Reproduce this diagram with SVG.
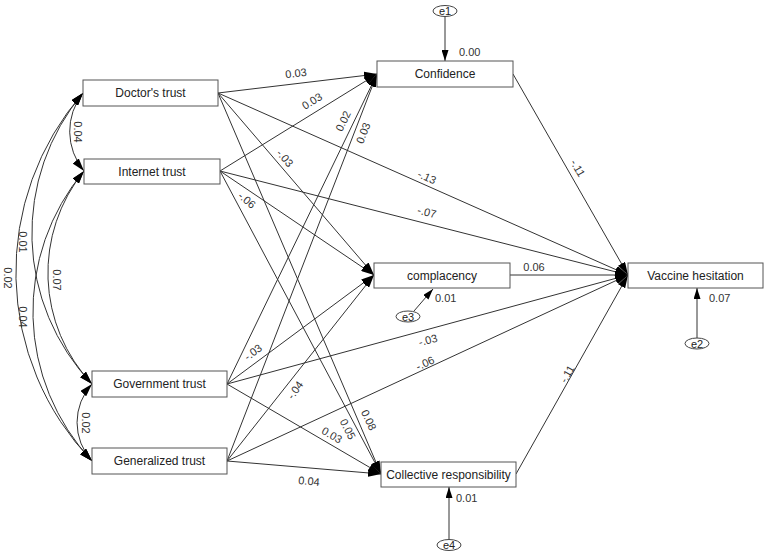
<svg xmlns="http://www.w3.org/2000/svg" width="767" height="555" viewBox="0 0 767 555">
<style>
.box{fill:#fff;stroke:#555;stroke-width:1}
.lbl{font-family:"Liberation Sans",Arial,sans-serif;font-size:12px;fill:#222;text-anchor:middle}
.el{fill:#fff;stroke:#444;stroke-width:1}
.elt{font-family:"Liberation Sans",Arial,sans-serif;font-size:11px;fill:#222;text-anchor:middle}
.c{fill:none;stroke:#333;stroke-width:1}
.w{font-family:"Liberation Sans",Arial,sans-serif;font-size:11px;fill:#333;text-anchor:middle}
.ws{font-family:"Liberation Sans",Arial,sans-serif;font-size:11px;fill:#333}
</style>
<defs>
<marker id="ah" markerUnits="userSpaceOnUse" markerWidth="13" markerHeight="8" refX="13" refY="4" orient="auto-start-reverse">
<path d="M0,0 L13,4 L0,8 z" fill="#000"/>
</marker>
<marker id="as" markerUnits="userSpaceOnUse" markerWidth="11" markerHeight="7" refX="11" refY="3.5" orient="auto-start-reverse">
<path d="M0,0 L11,3.5 L0,7 z" fill="#000"/>
</marker>
</defs>
<rect width="767" height="555" fill="#fff"/>

<g id="connectors">
<!-- covariances -->
<path class="c" d="M83,93 A62,62 0 0,0 84,171" marker-start="url(#ah)" marker-end="url(#ah)"/>
<path class="c" d="M83,93 A218.6,218.6 0 0,0 92,384" marker-start="url(#ah)" marker-end="url(#ah)"/>
<path class="c" d="M83,93 A272.5,272.5 0 0,0 92,461" marker-start="url(#ah)" marker-end="url(#ah)"/>
<path class="c" d="M84,171 A162,162 0 0,0 92,384" marker-start="url(#ah)" marker-end="url(#ah)"/>
<path class="c" d="M84,171 A218.8,218.8 0 0,0 92,461" marker-start="url(#ah)" marker-end="url(#ah)"/>
<path class="c" d="M92,384 A57,57 0 0,0 92,461" marker-start="url(#ah)" marker-end="url(#ah)"/>
<!-- Doctor's trust -->
<line class="c" x1="218" y1="93" x2="377" y2="74" marker-end="url(#ah)"/>
<line class="c" x1="218" y1="93" x2="374" y2="275" marker-end="url(#ah)"/>
<line class="c" x1="218" y1="93" x2="628" y2="275" marker-end="url(#ah)"/>
<line class="c" x1="218" y1="93" x2="381" y2="474" marker-end="url(#ah)"/>
<!-- Internet trust -->
<line class="c" x1="220" y1="171" x2="377" y2="74" marker-end="url(#ah)"/>
<line class="c" x1="220" y1="171" x2="374" y2="275" marker-end="url(#ah)"/>
<line class="c" x1="220" y1="171" x2="628" y2="275" marker-end="url(#ah)"/>
<line class="c" x1="220" y1="171" x2="381" y2="474" marker-end="url(#ah)"/>
<!-- Government trust -->
<line class="c" x1="227" y1="384" x2="377" y2="74" marker-end="url(#ah)"/>
<line class="c" x1="227" y1="384" x2="374" y2="275" marker-end="url(#ah)"/>
<line class="c" x1="227" y1="384" x2="628" y2="275" marker-end="url(#ah)"/>
<line class="c" x1="227" y1="384" x2="381" y2="474" marker-end="url(#ah)"/>
<!-- Generalized trust -->
<line class="c" x1="227" y1="461" x2="377" y2="74" marker-end="url(#ah)"/>
<line class="c" x1="227" y1="461" x2="374" y2="275" marker-end="url(#ah)"/>
<line class="c" x1="227" y1="461" x2="628" y2="275" marker-end="url(#ah)"/>
<line class="c" x1="227" y1="461" x2="381" y2="474" marker-end="url(#ah)"/>
<!-- mediators to outcome -->
<line class="c" x1="513" y1="74" x2="628" y2="275" marker-end="url(#ah)"/>
<line class="c" x1="510" y1="275" x2="628" y2="275" marker-end="url(#ah)"/>
<line class="c" x1="516" y1="474" x2="628" y2="275" marker-end="url(#ah)"/>
<!-- error terms -->
<line class="c" x1="445" y1="16.5" x2="445" y2="61" marker-end="url(#as)"/>
<line class="c" x1="414" y1="311" x2="433" y2="289" marker-end="url(#as)"/>
<line class="c" x1="697" y1="338" x2="697" y2="288" marker-end="url(#as)"/>
<line class="c" x1="449" y1="539" x2="449" y2="487" marker-end="url(#as)"/>

<!-- labels -->
<text class="w" transform="translate(78,132) rotate(90)" y="4">0.04</text>
<text class="w" transform="translate(23,242) rotate(90)" y="4">0.01</text>
<text class="w" transform="translate(8,278) rotate(90)" y="4">0.02</text>
<text class="w" transform="translate(57,280) rotate(90)" y="4">0.07</text>
<text class="w" transform="translate(23,317) rotate(90)" y="4">0.04</text>
<text class="w" transform="translate(86,423) rotate(90)" y="4">0.02</text>

<text class="w" transform="translate(296,73) rotate(-7)" y="4">0.03</text>
<text class="w" transform="translate(312,101) rotate(-32)" y="4">0.03</text>
<text class="w" transform="translate(343,121) rotate(-64)" y="4">0.02</text>
<text class="w" transform="translate(363,133) rotate(-69)" y="4">0.03</text>
<text class="w" transform="translate(285,158) rotate(49)" y="4">-.03</text>
<text class="w" transform="translate(427,177) rotate(24)" y="4">-.13</text>
<text class="w" transform="translate(247,200) rotate(40)" y="4">-.06</text>
<text class="w" transform="translate(427,212) rotate(14)" y="4">-.07</text>
<text class="w" transform="translate(253,352) rotate(-37)" y="4">-.03</text>
<text class="w" transform="translate(295,390) rotate(-55)" y="4">-.04</text>
<text class="w" transform="translate(428,340) rotate(-15)" y="4">-.03</text>
<text class="w" transform="translate(425,363) rotate(-25)" y="4">-.06</text>
<text class="w" transform="translate(369,420) rotate(65)" y="4">0.08</text>
<text class="w" transform="translate(348,429) rotate(63)" y="4">0.05</text>
<text class="w" transform="translate(332,435) rotate(30)" y="4">0.03</text>
<text class="w" transform="translate(309,481) rotate(5)" y="4">0.04</text>
<text class="w" transform="translate(578,168) rotate(60)" y="4">-.11</text>
<text class="w" transform="translate(534,267)" y="4">0.06</text>
<text class="w" transform="translate(567,374) rotate(-60)" y="4">-.11</text>

<text class="ws" x="459" y="56">0.00</text>
<text class="ws" x="435" y="302">0.01</text>
<text class="ws" x="709" y="302">0.07</text>
<text class="ws" x="456" y="502">0.01</text>
</g>

<g id="doctors-trust"><rect class="box" x="83" y="80" width="135" height="26"/><text class="lbl" x="150.5" y="97">Doctor's trust</text></g>
<g id="internet-trust"><rect class="box" x="84" y="159" width="136" height="25"/><text class="lbl" x="152" y="176">Internet trust</text></g>
<g id="government-trust"><rect class="box" x="92" y="371" width="135" height="26"/><text class="lbl" x="159.5" y="388">Government trust</text></g>
<g id="generalized-trust"><rect class="box" x="92" y="448" width="135" height="26"/><text class="lbl" x="159.5" y="465">Generalized trust</text></g>
<g id="confidence"><rect class="box" x="377" y="61" width="136" height="26"/><text class="lbl" x="445" y="78">Confidence</text></g>
<g id="complacency"><rect class="box" x="374" y="263" width="136" height="25"/><text class="lbl" x="442" y="280">complacency</text></g>
<g id="collective-responsibility"><rect class="box" x="381" y="462" width="135" height="25"/><text class="lbl" x="448.5" y="479">Collective responsibility</text></g>
<g id="vaccine-hesitation"><rect class="box" x="628" y="263" width="135" height="25"/><text class="lbl" x="695.5" y="280">Vaccine hesitation</text></g>

<g id="e1"><ellipse class="el" cx="445" cy="11" rx="12" ry="5.5"/><text class="elt" x="445" y="15">e1</text></g>
<g id="e3"><ellipse class="el" cx="408" cy="316.5" rx="12" ry="5.5"/><text class="elt" x="408" y="320.5">e3</text></g>
<g id="e2"><ellipse class="el" cx="697" cy="343.5" rx="12" ry="5.5"/><text class="elt" x="697" y="347.5">e2</text></g>
<g id="e4"><ellipse class="el" cx="449" cy="545" rx="12" ry="5.5"/><text class="elt" x="449" y="549">e4</text></g>
</svg>
